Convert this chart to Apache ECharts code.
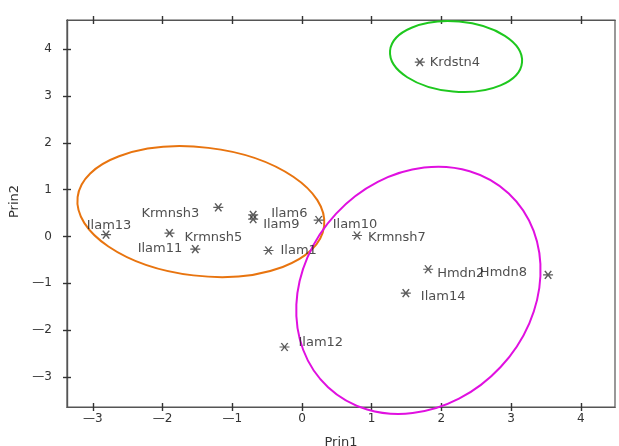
<!DOCTYPE html>
<html>
<head>
<meta charset="utf-8">
<script src="https://cdn.jsdelivr.net/npm/echarts@6/dist/echarts.min.js"></script>
<style>
  html, body { margin: 0; padding: 0; background: #fff; }
  #main { width: 619px; height: 446px; }
</style>
</head>
<body>
<div id="main"></div>
<script>
// scores on the first two principal components
const names = ['Krdstn4', 'Krmnsh3', 'Ilam6', 'Ilam9', 'Ilam10', 'Krmnsh5', 'Ilam13',
  'Ilam11', 'Ilam1', 'Krmnsh7', 'Hmdn2', 'Hmdn8', 'Ilam14', 'Ilam12'];
const prin1 = [1.69, -1.20, -0.70, -0.70, 0.24, -1.90, -2.81, -1.53, -0.48, 0.79, 1.81, 3.53, 1.49, -0.25];
const prin2 = [3.72, 0.62, 0.46, 0.37, 0.35, 0.07, 0.04, -0.27, -0.30, 0.02, -0.70, -0.82, -1.21, -2.36];

const xTicks = [-3, -2, -1, 0, 1, 2, 3, 4];
const yTicks = [-3, -2, -1, 0, 1, 2, 3, 4];

// group ellipses: centre, half axes (axis units), tilt (degrees)
const groups = ['Kermanshah', 'Hamadan', 'Kurdistan'];
const ellCx = [-1.45, 1.67, 2.21];
const ellCy = [0.53, -1.15, 3.84];
const ellRx = [1.78, 1.90, 0.95];
const ellRy = [1.37, 2.40, 0.75];
const ellTilt = [-6.7, 47, -5];

const xMin = -3.37, xMax = 4.49;
const yMin = -3.64, yMax = 4.62;

// where each label sits next to its star: [dx, dy, align]
const labelAt = {
  Krdstn4: [10, 0, 'left'],
  Krmnsh3: [-19, 6, 'right'],
  Ilam6: [18, -1, 'left'],
  Ilam9: [10, 6, 'left'],
  Ilam10: [14, 5, 'left'],
  Krmnsh5: [15, 4, 'left'],
  Ilam13: [3, -9, 'center'],
  Ilam11: [-13, 0, 'right'],
  Ilam1: [12, 0, 'left'],
  Krmnsh7: [11, 2, 'left'],
  Hmdn2: [9, 4, 'left'],
  Hmdn8: [-21, -2, 'right'],
  Ilam14: [15, 3, 'left'],
  Ilam12: [14, -4, 'left'],
};
const ellColors = ['#e8740f', '#e010e0', '#1ec81e'];

const FONT = 'DejaVu Sans';
const star = 'path://M0,5 L10,5 M1.8,0.5 L8.2,9.5 M1.8,9.5 L8.2,0.5';

function minus(v) {
  return v < 0 ? '\u2014' + (-v) : String(v);
}

function tickAxis(pos, inside, min, max, ticks, extra) {
  return Object.assign({
    type: 'value',
    position: pos,
    min: min,
    max: max,
    axisLine: { show: true, onZero: false, lineStyle: { color: '#555', width: 1.2 } },
    axisTick: { show: true, inside: inside, length: 4, customValues: ticks,
      lineStyle: { color: '#333', width: 1.4 } },
    axisLabel: { show: false },
    splitLine: { show: false },
  }, extra || {});
}

const chart = echarts.init(document.getElementById('main'));

const option = {
  backgroundColor: '#fff',
  animation: false,
  grid: {
    left: 67, right: 4, top: 20, bottom: 39,
    outerBoundsMode: 'none',
    containLabel: false,
    show: true, borderColor: '#555', borderWidth: 1.2,
  },
  xAxis: [
    tickAxis('bottom', false, xMin, xMax, xTicks, {
      name: 'Prin1',
      nameLocation: 'middle',
      nameGap: 29,
      nameTextStyle: { fontFamily: FONT, fontSize: 13, color: '#333' },
      axisLabel: { show: true, customValues: xTicks, formatter: minus, margin: 6,
        fontFamily: FONT, fontSize: 12, color: '#333' },
    }),
    tickAxis('bottom', true, xMin, xMax, xTicks),
    tickAxis('top', false, xMin, xMax, xTicks),
    tickAxis('top', true, xMin, xMax, xTicks),
  ],
  yAxis: [
    tickAxis('left', false, yMin, yMax, yTicks, {
      name: 'Prin2',
      nameLocation: 'middle',
      nameGap: 45,
      nameTextStyle: { fontFamily: FONT, fontSize: 13, color: '#333', padding: [0, 0, 0, 24] },
      axisLabel: { show: true, customValues: yTicks, formatter: minus, margin: 15,
        fontFamily: FONT, fontSize: 12, color: '#333' },
    }),
    tickAxis('left', true, yMin, yMax, yTicks),
  ],
  series: [
    {
      type: 'custom',
      name: 'groups',
      coordinateSystem: 'cartesian2d',
      clip: false,
      silent: true,
      data: groups.map((g, i) => [ellCx[i], ellCy[i], ellRx[i], ellRy[i], ellTilt[i]]),
      renderItem: function (params, api) {
        const c = api.coord([api.value(0), api.value(1)]);
        const s = api.size([api.value(2), api.value(3)]);
        return {
          type: 'ellipse',
          x: c[0],
          y: c[1],
          rotation: api.value(4) * Math.PI / 180,
          shape: { cx: 0, cy: 0, rx: s[0], ry: s[1] },
          style: { fill: 'none', stroke: ellColors[params.dataIndex], lineWidth: 2 },
        };
      },
    },
    {
      type: 'scatter',
      name: 'scores',
      symbol: star,
      symbolSize: [10, 8],
      itemStyle: { color: '#333', borderColor: '#333', borderWidth: 1.3 },
      data: names.map((n, i) => ({
        name: n,
        value: [prin1[i], prin2[i]],
        label: {
          show: true,
          position: 'inside',
          align: labelAt[n][2],
          verticalAlign: 'middle',
          offset: [labelAt[n][0], labelAt[n][1]],
          formatter: '{b}',
          fontFamily: FONT,
          fontSize: 13,
          color: '#222',
        },
      })),
    },
  ],
};

chart.setOption(option);
window.onresize = chart.resize;
</script>
</body>
</html>
